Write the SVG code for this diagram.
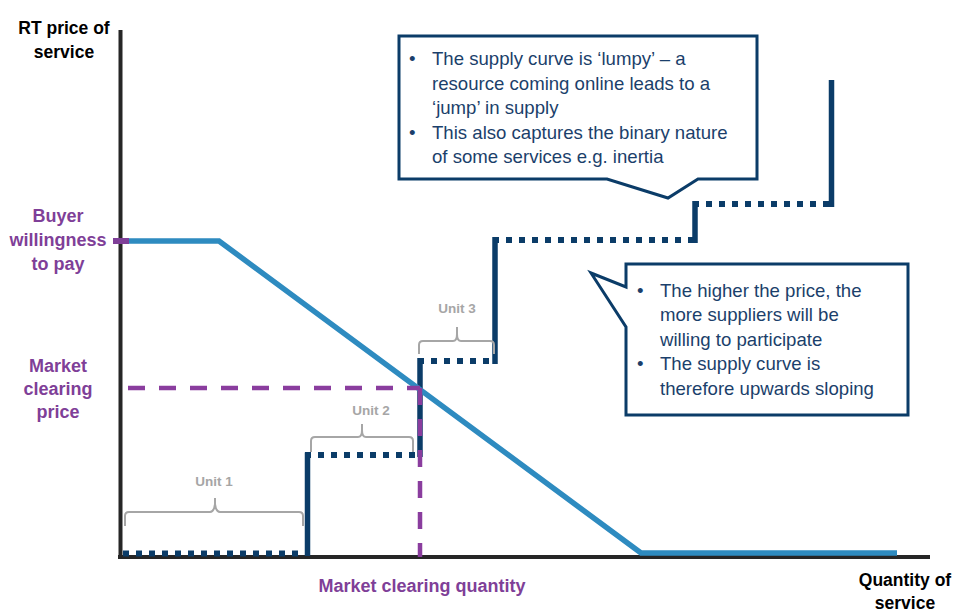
<svg xmlns="http://www.w3.org/2000/svg" width="957" height="613" viewBox="0 0 957 613">
<style>
.axlbl{font-family:"Liberation Sans",Arial,sans-serif;font-weight:bold;font-size:17.5px;fill:#000;text-anchor:middle}
.plbl{font-family:"Liberation Sans",Arial,sans-serif;font-weight:bold;font-size:18px;fill:#7F3F98;text-anchor:middle}
.unit{font-family:"Liberation Sans",Arial,sans-serif;font-weight:bold;font-size:13.5px;fill:#A6A6A6;text-anchor:middle}
.ctext{font-family:"Liberation Sans",Arial,sans-serif;font-size:18.6px;fill:#1B3F6B}
.axis{stroke:#262626;stroke-width:4;fill:none}
.demand{stroke:#2E8BC0;stroke-width:5.5;fill:none;stroke-linejoin:miter}
.sdot{stroke:#0B3C68;stroke-width:6;stroke-dasharray:6 7;fill:none}
.ssolid{stroke:#0B3C68;stroke-width:5.5;fill:none}
.mc{stroke:#8A3D9E;stroke-width:4.5;stroke-dasharray:17 14;fill:none}
.brace{stroke:#A6A6A6;stroke-width:2;fill:none}
.callout{fill:#fff;stroke:#0B3C68;stroke-width:3}
</style>

<g id="axes">
<line class="axis" x1="120.5" y1="30" x2="120.5" y2="559"/>
<line class="axis" x1="118" y1="557" x2="930" y2="557"/>
<text class="axlbl" x="64" y="34">RT price of</text>
<text class="axlbl" x="64" y="58">service</text>
<text class="axlbl" x="905" y="586">Quantity of</text>
<text class="axlbl" x="905" y="609">service</text>
</g>

<g id="labels">
<text class="plbl" x="58" y="222">Buyer</text>
<text class="plbl" x="58" y="246">willingness</text>
<text class="plbl" x="58" y="270">to pay</text>
<text class="plbl" x="58" y="372">Market</text>
<text class="plbl" x="58" y="395">clearing</text>
<text class="plbl" x="58" y="418">price</text>
<text class="plbl" x="422" y="592">Market clearing quantity</text>
</g>

<g id="connectors">
<g id="supply">
<line class="sdot" x1="123" y1="553.5" x2="305" y2="553.5"/>
<line class="ssolid" x1="307.5" y1="556" x2="307.5" y2="452.5"/>
<line class="sdot" x1="305" y1="455" x2="418" y2="455"/>
<line class="ssolid" x1="420" y1="457" x2="420" y2="358"/>
<line class="sdot" x1="418" y1="361" x2="493" y2="361"/>
<line class="ssolid" x1="495" y1="364" x2="495" y2="237"/>
<line class="sdot" x1="493" y1="240" x2="693" y2="240"/>
<line class="ssolid" x1="695" y1="243" x2="695" y2="201"/>
<line class="sdot" x1="693" y1="204" x2="830" y2="204"/>
<line class="ssolid" x1="831.5" y1="207" x2="831.5" y2="80"/>
</g>
<polyline id="demand" class="demand" points="128,241 219,241 641,553 897,553"/>
<line class="mc" x1="128" y1="388" x2="420" y2="388"/>
<line class="mc" x1="420" y1="388" x2="420" y2="557"/>
<line id="wtp-tick" x1="113" y1="241" x2="129" y2="241" stroke="#7F3F98" stroke-width="6"/>
</g>

<g id="unit1">
<path class="brace" d="M125,526 V516 Q125,512 129,512 H210 Q214,512 215,504 V498 M215,498 V504 Q216,512 220,512 H299 Q303,512 303,516 V526"/>
<text class="unit" x="214" y="486">Unit 1</text>
</g>
<g id="unit2">
<path class="brace" d="M311,452 V441 Q311,437 315,437 H358 Q362,437 362,430 V424 M362,424 V430 Q362,437 366,437 H409 Q413,437 413,441 V452"/>
<text class="unit" x="371" y="415">Unit 2</text>
</g>
<g id="unit3">
<path class="brace" d="M419,354 V345 Q419,341 423,341 H453 Q457,341 457,334 V327 M457,327 V334 Q457,341 461,341 H490 Q494,341 494,345 V354"/>
<text class="unit" x="457" y="313">Unit 3</text>
</g>

<g id="callout1">
<path class="callout" d="M399,36 H757 V179 H698 L668,198 L607,179 H399 Z"/>
<text class="ctext" x="409" y="65">•</text>
<text class="ctext" x="432" y="65">The supply curve is ‘lumpy’ – a</text>
<text class="ctext" x="432" y="90">resource coming online leads to a</text>
<text class="ctext" x="432" y="114">‘jump’ in supply</text>
<text class="ctext" x="409" y="139">•</text>
<text class="ctext" x="432" y="139">This also captures the binary nature</text>
<text class="ctext" x="432" y="163">of some services e.g. inertia</text>
</g>

<g id="callout2">
<path class="callout" d="M626,264 H908 V415 H626 V327 L591,273 L626,287 Z"/>
<text class="ctext" x="637" y="297">•</text>
<text class="ctext" x="660" y="297">The higher the price, the</text>
<text class="ctext" x="660" y="321">more suppliers will be</text>
<text class="ctext" x="660" y="346">willing to participate</text>
<text class="ctext" x="637" y="370">•</text>
<text class="ctext" x="660" y="370">The supply curve is</text>
<text class="ctext" x="660" y="395">therefore upwards sloping</text>
</g>
</svg>
